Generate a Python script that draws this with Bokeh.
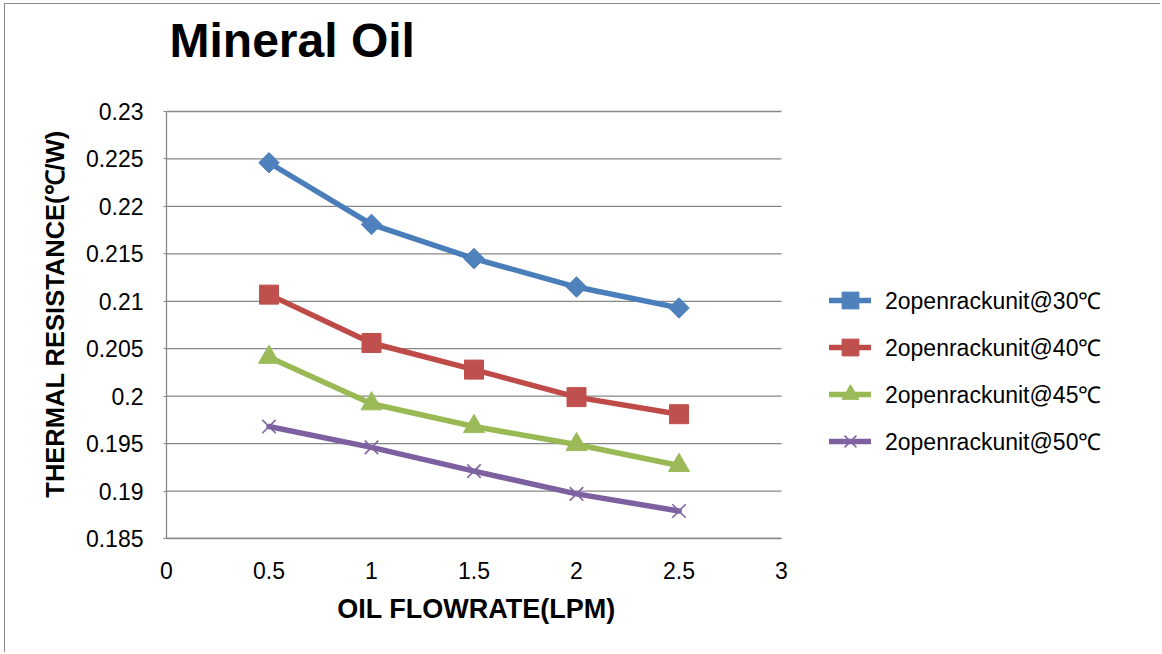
import numpy as np
from bokeh.plotting import figure
from bokeh.models import (Range1d, FixedTicker, Legend, LegendItem, Label)
from bokeh.embed import file_html
from bokeh.resources import INLINE

# ---- data ----
flowrate = [0.5, 1.0, 1.5, 2.0, 2.5]
r30 = [0.2246, 0.2181, 0.2145, 0.2115, 0.2093]
r40 = [0.2107, 0.2056, 0.2028, 0.1999, 0.1981]
r45 = [0.2041, 0.1992, 0.1968, 0.1949, 0.1927]
r50 = [0.1968, 0.1946, 0.1921, 0.1897, 0.1879]
series_names = ["2openrackunit@30℃", "2openrackunit@40℃", "2openrackunit@45℃", "2openrackunit@50℃"]
x_ticks = [0, 0.5, 1, 1.5, 2, 2.5, 3]
x_tick_labels = ["0", "0.5", "1", "1.5", "2", "2.5", "3"]
y_ticks = [0.185, 0.19, 0.195, 0.2, 0.205, 0.21, 0.215, 0.22, 0.225, 0.23]
y_tick_labels = ["0.185", "0.19", "0.195", "0.2", "0.205", "0.21", "0.215", "0.22", "0.225", "0.23"]
x_min, x_max = 0, 3
y_min, y_max = 0.185, 0.23
x_title = "OIL FLOWRATE(LPM)"
y_title = "THERMAL RESISTANCE(℃/W)"
chart_title = "Mineral Oil"

FONT = "Liberation Sans"
GRID = "#878787"
NBSP = "\u00a0"
OX, OY = 6, 5              # shift caused by the outer frame border (margin + border)
W, H = 1162 - OX, 654 - OY  # canvas size
LEFT, BOTTOM = 167 - OX, 115  # borders around the plotting area
PLOT_W, PLOT_H = 615, 427     # pixel size of the visible axes box
frame_w = W - LEFT
frame_h = H - BOTTOM
# the frame reaches the canvas top/right so that title and legend are not clipped
x_end = x_min + (x_max - x_min) * frame_w / PLOT_W
y_end = y_min + (y_max - y_min) * frame_h / PLOT_H

p = figure(width=W, height=H, output_backend="svg", toolbar_location=None, title_location=None,
           x_range=Range1d(x_min, x_end), y_range=Range1d(y_min, y_end))
p.styles = {"margin-left": "4px", "margin-top": "3px",
            "border-left": "1.5px solid #8a8a8a", "border-top": "1.5px solid #8a8a8a"}
p.min_border_left = LEFT
p.min_border_right = 0
p.min_border_top = 0
p.min_border_bottom = BOTTOM
p.outline_line_color = None
p.background_fill_color = "white"
p.border_fill_color = "white"

# axes
p.xaxis.ticker = FixedTicker(ticks=x_ticks)
p.xaxis.major_label_overrides = {t: l for t, l in zip(x_ticks, x_tick_labels)}
p.yaxis.ticker = FixedTicker(ticks=y_ticks)
p.yaxis.major_label_overrides = {t: l for t, l in zip(y_ticks, y_tick_labels)}
p.xaxis.bounds = (x_min, x_max)
p.yaxis.bounds = (y_min, y_max)
for ax in (p.xaxis, p.yaxis):
    ax.axis_line_color = GRID
    ax.axis_line_width = 1.3
    ax.major_tick_line_color = GRID
    ax.major_tick_in = 0
    ax.minor_tick_line_color = None
    ax.major_label_text_font = FONT
    ax.major_label_text_font_size = "23px"
    ax.major_label_text_color = "black"
    ax.axis_label_text_font = FONT
    ax.axis_label_text_font_style = "bold"
    ax.axis_label_text_color = "black"
p.xaxis.axis_label_text_font_size = "27px"
p.yaxis.axis_label_text_font_size = "25.5px"
p.xaxis.major_tick_out = 0
p.yaxis.major_tick_out = 3
p.xaxis.major_label_standoff = 23
p.yaxis.major_label_standoff = 20
# axis titles are centred on the (wider) frame; pad them so they sit centred on the axes box
p.xaxis.axis_label = x_title + NBSP * 50
p.yaxis.axis_label = y_title + NBSP * 12
p.xaxis.axis_label_standoff = 12
p.yaxis.axis_label_standoff = 14

p.xgrid.grid_line_color = None
p.ygrid.grid_line_color = None
# horizontal gridlines limited to the axes box
p.segment(x0=[x_min] * len(y_ticks), y0=y_ticks, x1=[x_max] * len(y_ticks), y1=y_ticks,
          line_color=GRID, line_width=1.3)

# series
line_colors = ["#4A7EBB", "#BE4B48", "#98B954", "#7D60A0"]
marker_colors = ["#4F81BD", "#C0504D", "#9BBB59", "#8064A2"]
data = [r30, r40, r45, r50]
items = []
for i, (vals, name) in enumerate(zip(data, series_names)):
    ln = p.line(flowrate, vals, line_color=line_colors[i], line_width=5.5,
                line_join="round", line_cap="round")
    if i == 0:
        mk = p.scatter(flowrate, vals, marker="square", angle=np.pi / 4, size=14.5,
                       fill_color=marker_colors[i], line_color=marker_colors[i])
    elif i == 1:
        mk = p.scatter(flowrate, vals, marker="square", size=19,
                       fill_color=marker_colors[i], line_color=marker_colors[i])
    elif i == 2:
        mk = p.scatter(flowrate, vals, marker="triangle", size=21,
                       fill_color=marker_colors[i], line_color=marker_colors[i])
    else:
        mk = p.scatter(flowrate, vals, marker="x", size=19,
                       line_color=marker_colors[i], line_width=1.6)
    items.append(LegendItem(label=name, renderers=[ln, mk]))

legend = Legend(items=items, location=(663, 74))
legend.glyph_width = 42
legend.glyph_height = 46
legend.spacing = 1
legend.padding = 0
legend.margin = 0
legend.label_standoff = 14
legend.label_text_font = FONT
legend.label_text_font_size = "23px"
legend.label_text_color = "black"
legend.border_line_alpha = 0
legend.background_fill_alpha = 0
p.add_layout(legend, "center")

title = Label(x=3, y=498, x_units="screen", y_units="screen", text=chart_title,
              text_font=FONT, text_font_style="bold", text_font_size="48px",
              text_color="black", text_baseline="alphabetic")
p.add_layout(title)

open("out.html", "w").write(file_html(p, INLINE))
